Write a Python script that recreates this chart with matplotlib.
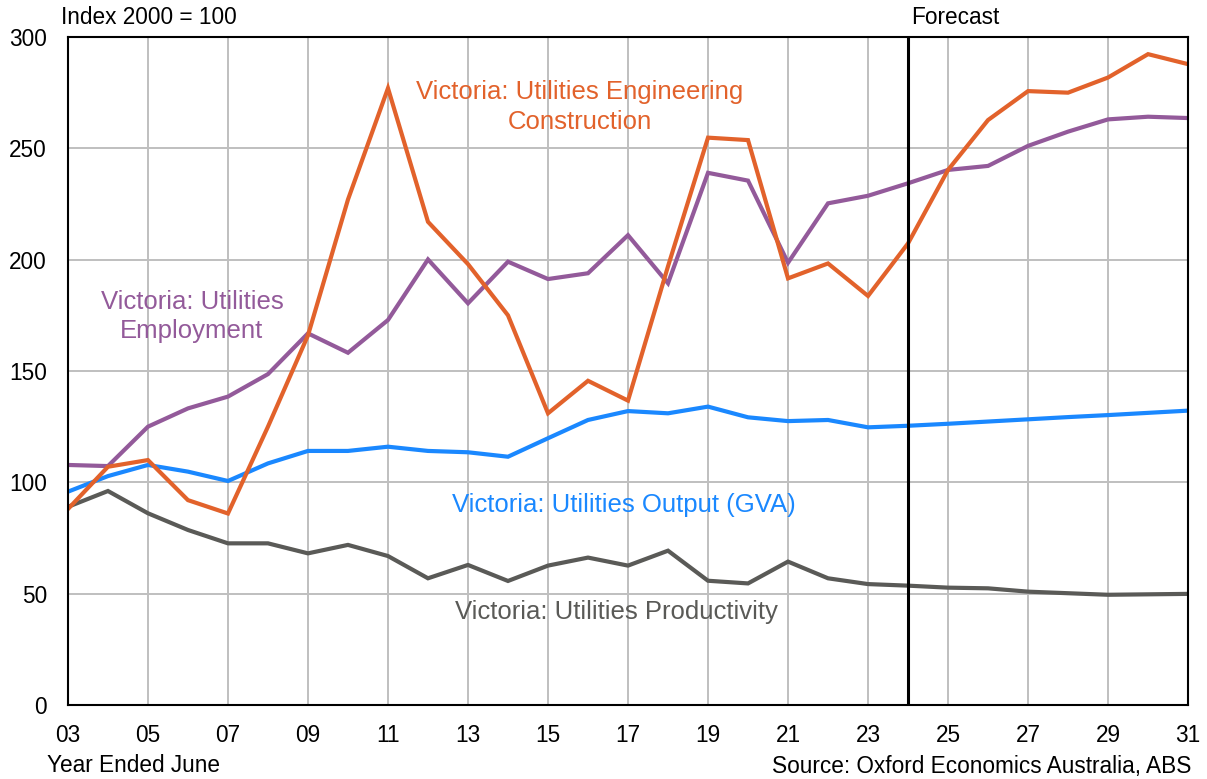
import numpy as np
import matplotlib.pyplot as plt

plt.rcParams['font.family'] = ['Liberation Sans', 'DejaVu Sans']

# financial years ended June
years = list(range(2003, 2032))

# Victoria: Utilities Engineering Construction (index 2000 = 100)
eng_constr = [88, 107, 110, 92, 86, 125, 166, 227, 277, 217, 198, 175, 131, 145.6, 136.7,
              197, 254.8, 253.7, 191.6, 198.3, 183.7, 207.3, 240.3, 262.7, 275.7, 275,
              281.8, 292.3, 287.8]

# Victoria: Utilities Employment
employment = [107.8, 107.3, 125, 133.2, 138.5, 148.6, 166.9, 158.2, 172.9, 200.1, 180.4,
              199.1, 191.3, 193.9, 211, 189.4, 239, 235.5, 198.6, 225.3, 228.7, 234.3,
              240.3, 242.1, 251.1, 257.5, 263, 264.2, 263.6]

# Victoria: Utilities Output (GVA)
output_gva = [95.8, 102.8, 107.8, 104.8, 100.6, 108.5, 114.1, 114.1, 116, 114.1, 113.5,
              111.5, 119.8, 128, 132, 131, 134, 129.2, 127.5, 128, 124.7, 125.4, 126.3,
              127.3, 128.3, 129.3, 130.2, 131.2, 132.2]

# Victoria: Utilities Productivity
productivity = [89, 96.1, 86.1, 78.6, 72.6, 72.6, 68.1, 71.9, 66.9, 56.9, 62.9, 55.7, 62.6,
                66.2, 62.6, 69.3, 55.8, 54.6, 64.4, 56.9, 54.3, 53.6, 52.7, 52.4, 50.9,
                50.2, 49.5, 49.7, 49.9]

forecast_year = 2024

c_orange = '#E2622B'
c_purple = '#935A9A'
c_blue = '#1A88FF'
c_grey = '#5A5A57'

fig = plt.figure(figsize=(12.07, 7.79), dpi=100)
ax = fig.add_axes([0.0563, 0.095, 0.928, 0.8575])

ax.plot(years, productivity, color=c_grey, lw=3, solid_joinstyle='miter')
ax.plot(years, output_gva, color=c_blue, lw=3, solid_joinstyle='miter')
ax.plot(years, employment, color=c_purple, lw=3, solid_joinstyle='miter')
ax.plot(years, eng_constr, color=c_orange, lw=3, solid_joinstyle='miter')

ax.axvline(forecast_year, color='black', lw=2.2, zorder=5)

ax.set_xlim(2003, 2031)
ax.set_ylim(0, 300)
ax.set_xticks(range(2003, 2032, 2))
ax.set_xticklabels(['%02d' % (y % 100) for y in range(2003, 2032, 2)])
ax.set_yticks(range(0, 301, 50))
ax.tick_params(axis='both', length=0, labelsize=16.3)
ax.tick_params(axis='x', pad=14)
ax.tick_params(axis='y', pad=15)
ax.grid(True, color='#BFBFBF', lw=1.4)
ax.set_axisbelow(True)
for s in ax.spines.values():
    s.set_color('black')
    s.set_linewidth(1.5)

# series labels
ax.text(2015.8, 268.5, 'Victoria: Utilities Engineering\nConstruction', color=c_orange,
        fontsize=18.5, ha='center', va='center', linespacing=1.28)
ax.text(2006.1, 174.5, 'Victoria: Utilities\nEmployment', color=c_purple,
        fontsize=18.5, ha='center', va='center', linespacing=1.28)
ax.text(2016.9, 89.8, 'Victoria: Utilities Output (GVA)', color=c_blue,
        fontsize=18.5, ha='center', va='center')
ax.text(2016.7, 41.8, 'Victoria: Utilities Productivity', color=c_grey,
        fontsize=18.5, ha='center', va='center')

fig.text(61 / 1207, 1 - 18 / 779, 'Index 2000 = 100', fontsize=16.3, ha='left', va='center')
fig.text(911 / 1207, 1 - 18 / 779, 'Forecast', fontsize=16.3, ha='left', va='center')
fig.text(47 / 1207, 1 - 766 / 779, 'Year Ended June', fontsize=16.3, ha='left', va='center')
fig.text(1191 / 1207, 1 - 766 / 779, 'Source: Oxford Economics Australia, ABS', fontsize=16.3,
         ha='right', va='center')

fig.savefig('out.png', dpi=100)
